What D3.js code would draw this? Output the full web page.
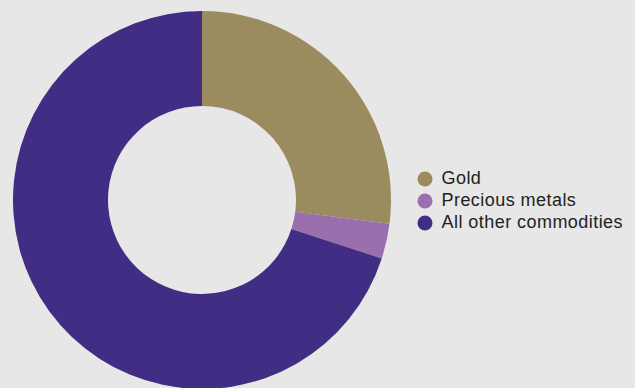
<!DOCTYPE html>
<html>
<head>
<meta charset="utf-8">
<script src="https://cdn.jsdelivr.net/npm/d3@7"></script>
<style>
  html, body { margin: 0; padding: 0; background: #e6e7e6; }
  svg { display: block; }
</style>
</head>
<body>
<svg id="chart" width="635" height="388"></svg>
<script>
// Share of holdings by category (%)
const categories = ["Gold", "Precious metals", "All other commodities"];
const shares = [27, 3, 70];
const colors = ["#9b8c5f", "#9a6fae", "#422d84"];

const svg = d3.select("#chart");
const cx = 202, cy = 200, outerR = 189, innerR = 94;

const color = d3.scaleOrdinal().domain(categories).range(colors);
const pie = d3.pie().sort(null).value(d => d.value);
const arc = d3.arc().innerRadius(innerR).outerRadius(outerR);

const data = categories.map((c, i) => ({ name: c, value: shares[i] }));

svg.append("g")
  .attr("transform", `translate(${cx},${cy})`)
  .selectAll("path")
  .data(pie(data))
  .join("path")
  .attr("d", arc)
  .attr("fill", d => color(d.data.name));

// Legend
const legend = svg.append("g").attr("transform", "translate(425,179)");
const item = legend.selectAll("g")
  .data(categories)
  .join("g")
  .attr("transform", (d, i) => `translate(0,${i * 22})`);
item.append("circle").attr("r", 7.5).attr("fill", d => color(d));
item.append("text")
  .attr("x", 16.5)
  .attr("dy", "0.3em")
  .attr("font-family", "'Liberation Sans', Arial, sans-serif")
  .attr("font-size", 18)
  .attr("letter-spacing", 0.45)
  .attr("fill", "#222")
  .text(d => d);
</script>
</body>
</html>
